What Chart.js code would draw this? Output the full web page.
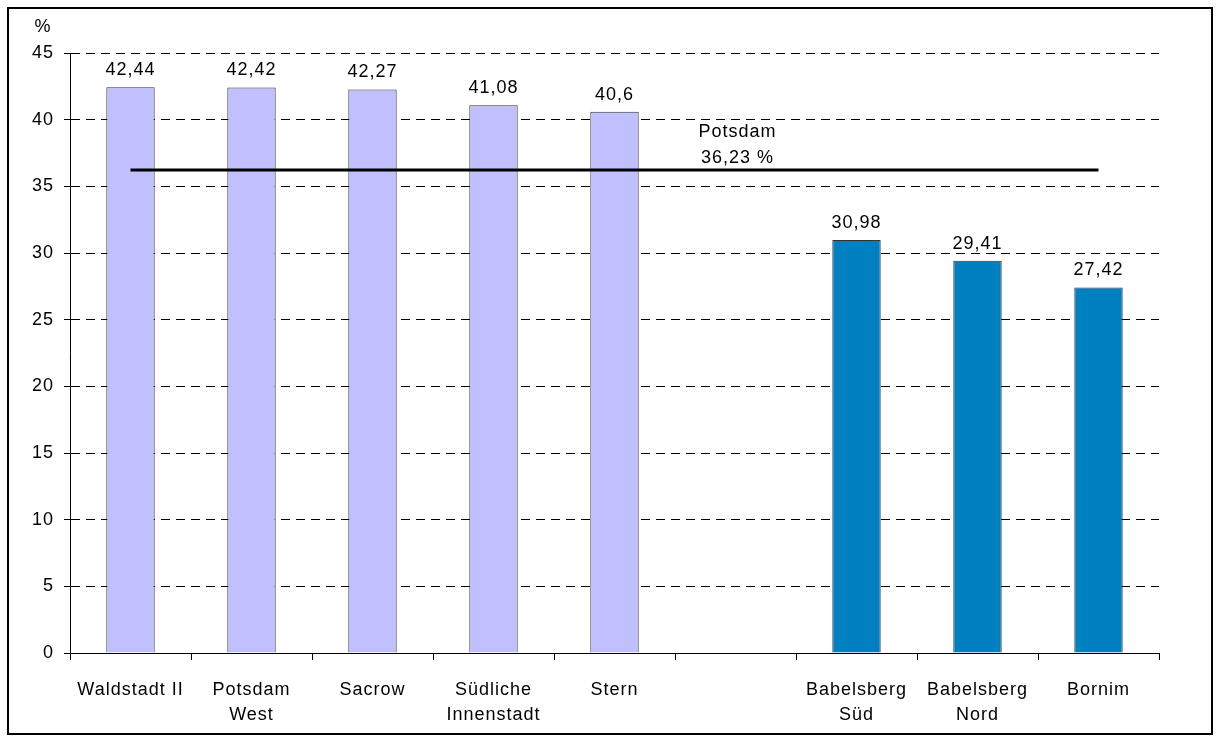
<!DOCTYPE html>
<html>
<head>
<meta charset="utf-8">
<script src="https://cdn.jsdelivr.net/npm/chart.js@4/dist/chart.umd.min.js"></script>
<style>
  body { margin: 0; background: #fff; }
  #wrap { width: 1216px; height: 742px; }
</style>
</head>
<body>
<div id="wrap"><canvas id="chart"></canvas></div>
<script>
// districts, one empty slot between the two groups
const districts = [
  "Waldstadt II",
  ["Potsdam", "West"],
  "Sacrow",
  ["Südliche", "Innenstadt"],
  "Stern",
  "",
  ["Babelsberg", "Süd"],
  ["Babelsberg", "Nord"],
  "Bornim",
];
const shares = [42.44, 42.42, 42.27, 41.08, 40.6, null, 30.98, 29.41, 27.42];
const barColors = ["#C0C0FF", "#C0C0FF", "#C0C0FF", "#C0C0FF", "#C0C0FF", "#C0C0FF", "#0080C0", "#0080C0", "#0080C0"];
const potsdamAvg = [36.23, 36.23, 36.23, 36.23, 36.23, 36.23, 36.23, 36.23, 36.23];
const yTicks = [0, 5, 10, 15, 20, 25, 30, 35, 40, 45];

const fontFamily = "'Liberation Sans', Arial, sans-serif";
const fmt = (v) => String(v).replace(".", ",");

// letter spacing like the original EMF rendering
const spacingPlugin = {
  id: "spacing",
  beforeLayout(chart) { chart.ctx.letterSpacing = "1px"; },
  beforeDraw(chart) { chart.ctx.letterSpacing = "1px"; },
};

const framePlugin = {
  id: "frame",
  afterDraw(chart) {
    const ctx = chart.ctx;
    ctx.save();
    ctx.strokeStyle = "#000";
    ctx.lineWidth = 2;
    ctx.strokeRect(8, 8, 1204, 726);
    ctx.fillStyle = "#000";
    ctx.font = "18px " + fontFamily;
    ctx.textAlign = "center";
    ctx.textBaseline = "middle";
    ctx.fillText("%", 43, 27);

    // value labels over bars
    const meta = chart.getDatasetMeta(1);
    meta.data.forEach((bar, i) => {
      if (shares[i] == null) return;
      ctx.textBaseline = "bottom";
      ctx.fillText(fmt(shares[i]), bar.x, bar.y - 8);
    });

    // Potsdam average label
    const x = chart.scales.x.getPixelForValue(5);
    const y = chart.scales.y.getPixelForValue(potsdamAvg[5]);
    ctx.textBaseline = "middle";
    ctx.fillText("Potsdam", x + 2, y - 38);
    ctx.fillText(fmt(potsdamAvg[5]) + " %", x + 2, y - 12);
    ctx.restore();
  },
};

new Chart(document.getElementById("chart"), {
  data: {
    labels: districts,
    datasets: [
      {
        type: "line",
        label: "Potsdam",
        data: potsdamAvg,
        borderColor: "#000",
        borderWidth: 3,
        pointRadius: 0,
        order: 0,
      },
      {
        type: "bar",
        label: "Anteil",
        data: shares,
        backgroundColor: barColors,
        borderColor: "#333",
        borderWidth: 1,
        categoryPercentage: 1,
        barPercentage: 0.4,
        order: 1,
      },
    ],
  },
  options: {
    responsive: true,
    maintainAspectRatio: false,
    animation: false,
    layout: { padding: { top: 53, right: 57, bottom: 0, left: 0 } },
    plugins: {
      legend: { display: false },
      tooltip: { enabled: false },
    },
    scales: {
      x: {
        offset: true,
        afterFit: (scale) => { scale.height = 89; },
        grid: {
          offset: true,
          drawOnChartArea: false,
          drawTicks: true,
          tickLength: 7,
          color: "#000",
        },
        border: { display: true, color: "#000", width: 1 },
        ticks: {
          color: "#000",
          padding: 17,
          maxRotation: 0,
          autoSkip: false,
          font: { family: fontFamily, size: 18, lineHeight: 1.4 },
        },
      },
      y: {
        min: 0,
        max: 45,
        afterFit: (scale) => { scale.width = 70; },
        afterBuildTicks: (scale) => { scale.ticks = yTicks.map((v) => ({ value: v })); },
        grid: {
          color: "#000",
          tickBorderDash: [],
          tickLength: 6,
          drawTicks: true,
        },
        border: { display: true, color: "#000", width: 1, dash: [9, 6] },
        ticks: {
          color: "#000",
          padding: 10,
          font: { family: fontFamily, size: 18 },
        },
      },
    },
  },
  plugins: [spacingPlugin, framePlugin],
});
</script>
</body>
</html>
